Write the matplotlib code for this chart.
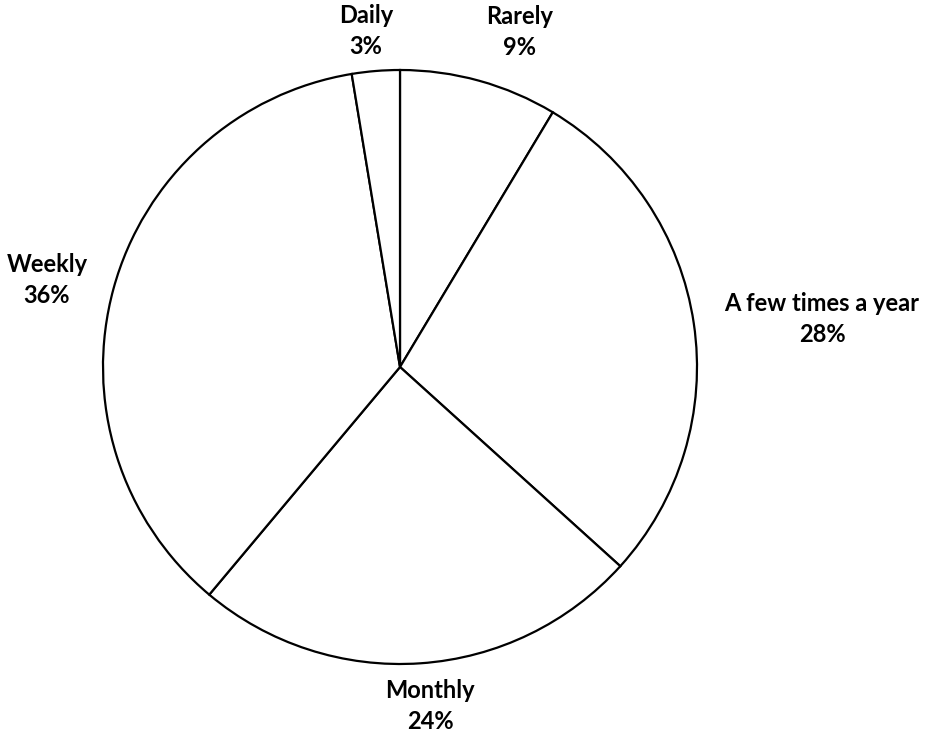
import matplotlib
matplotlib.use("Agg")
from matplotlib import pyplot as plt

labels = ["Rarely", "A few times a year", "Monthly", "Weekly", "Daily"]
shares = [8.6, 28.1, 24.4, 36.3, 2.6]
# label anchor points in pixel coords (x, y from top)
label_xy = [(520, 32), (822, 319), (430, 706), (47, 280), (366, 31)]

W, H = 927, 734
fig = plt.figure(figsize=(W / 100, H / 100), dpi=100)
ax = fig.add_axes([0, 0, 1, 1])

ax.pie(shares, startangle=90, counterclock=False,
       center=(400, H - 367), radius=297, frame=True,
       colors=["white"] * len(shares),
       wedgeprops=dict(edgecolor="black", linewidth=1.6))
ax.set_xlim(0, W)
ax.set_ylim(0, H)
ax.axis("off")

for lab, val, (x, y) in zip(labels, shares, label_xy):
    ax.text(x, H - y, f"{lab}\n{val:.0f}%", ha="center", va="center",
            fontsize=17, fontweight="bold", family="Lato",
            linespacing=1.45)

fig.savefig("out.png", dpi=100, facecolor="white")
